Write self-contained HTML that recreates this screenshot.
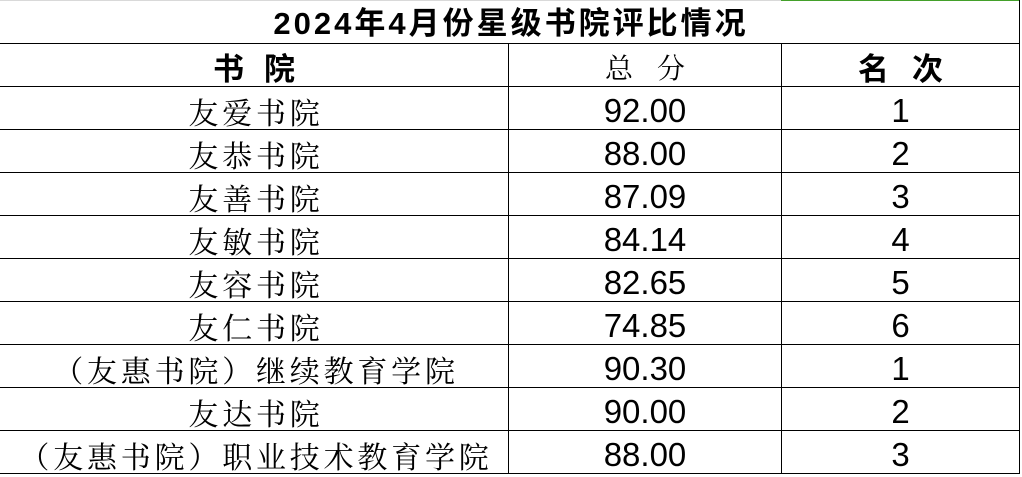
<!DOCTYPE html>
<html>
<head>
<meta charset="utf-8">
<style>
html,body{margin:0;padding:0;background:#fff;}
body{width:1022px;height:477px;position:relative;overflow:hidden;}
*{box-sizing:border-box;}
.h{position:absolute;left:0;width:1020px;height:1px;background:#000;}
.v{position:absolute;width:1px;background:#000;}
.c{position:absolute;text-align:center;white-space:nowrap;color:#000;}
.name{font-family:"Noto Serif CJK SC","Liberation Serif",serif;font-size:30px;letter-spacing:3.8px;padding-left:4px;}
.num{font-family:"Liberation Sans",sans-serif;font-size:33px;}
.rk{font-family:"Liberation Sans",sans-serif;font-size:33px;}
</style>
</head>
<body>
<div style="position:absolute;left:0;top:0;width:781px;height:1px;background:#d9d9d9"></div>
<div style="position:absolute;left:781px;top:0;width:239px;height:1px;background:#43a02a"></div>

<div class="c" style="left:0;top:3px;width:1019px;height:42px;line-height:42px;font-family:'Liberation Sans','Noto Sans CJK SC',sans-serif;font-weight:bold;font-size:31px;letter-spacing:3px;padding-left:3px;">2024年4月份星级书院评比情况</div>

<div class="h" style="top:43px"></div>
<div class="h" style="top:86px"></div>
<div class="h" style="top:129px"></div>
<div class="h" style="top:172px"></div>
<div class="h" style="top:215px"></div>
<div class="h" style="top:258px"></div>
<div class="h" style="top:301px"></div>
<div class="h" style="top:344px"></div>
<div class="h" style="top:387px"></div>
<div class="h" style="top:430px"></div>
<div class="h" style="top:473px"></div>

<div class="v" style="left:508px;top:43px;height:431px"></div>
<div class="v" style="left:781px;top:43px;height:431px"></div>
<div class="v" style="left:1019px;top:0;height:474px"></div>

<!-- header -->
<div class="c" style="left:0;top:46px;width:508px;height:42px;line-height:42px;font-family:'Noto Sans CJK SC',sans-serif;font-weight:bold;font-size:31px;letter-spacing:20px;padding-left:20px;">书院</div>
<div class="c" style="left:509px;top:46px;width:272px;height:42px;line-height:42px;font-family:'Noto Serif CJK SC',serif;font-size:28px;letter-spacing:24px;padding-left:24px;">总分</div>
<div class="c" style="left:782px;top:46px;width:237px;height:42px;line-height:42px;font-family:'Noto Sans CJK SC',sans-serif;font-weight:bold;font-size:31px;letter-spacing:23px;padding-left:23px;">名次</div>

<!-- rows -->
<div class="c name" style="left:0;top:90px;width:508px;height:42px;line-height:42px;">友爱书院</div>
<div class="c num" style="left:509px;top:90px;width:272px;height:42px;line-height:42px;">92.00</div>
<div class="c rk" style="left:782px;top:90px;width:237px;height:42px;line-height:42px;">1</div>

<div class="c name" style="left:0;top:133px;width:508px;height:42px;line-height:42px;">友恭书院</div>
<div class="c num" style="left:509px;top:133px;width:272px;height:42px;line-height:42px;">88.00</div>
<div class="c rk" style="left:782px;top:133px;width:237px;height:42px;line-height:42px;">2</div>

<div class="c name" style="left:0;top:176px;width:508px;height:42px;line-height:42px;">友善书院</div>
<div class="c num" style="left:509px;top:176px;width:272px;height:42px;line-height:42px;">87.09</div>
<div class="c rk" style="left:782px;top:176px;width:237px;height:42px;line-height:42px;">3</div>

<div class="c name" style="left:0;top:219px;width:508px;height:42px;line-height:42px;">友敏书院</div>
<div class="c num" style="left:509px;top:219px;width:272px;height:42px;line-height:42px;">84.14</div>
<div class="c rk" style="left:782px;top:219px;width:237px;height:42px;line-height:42px;">4</div>

<div class="c name" style="left:0;top:262px;width:508px;height:42px;line-height:42px;">友容书院</div>
<div class="c num" style="left:509px;top:262px;width:272px;height:42px;line-height:42px;">82.65</div>
<div class="c rk" style="left:782px;top:262px;width:237px;height:42px;line-height:42px;">5</div>

<div class="c name" style="left:0;top:305px;width:508px;height:42px;line-height:42px;">友仁书院</div>
<div class="c num" style="left:509px;top:305px;width:272px;height:42px;line-height:42px;">74.85</div>
<div class="c rk" style="left:782px;top:305px;width:237px;height:42px;line-height:42px;">6</div>

<div class="c name" style="left:0;top:348px;width:508px;height:42px;line-height:42px;">（友惠书院）继续教育学院</div>
<div class="c num" style="left:509px;top:348px;width:272px;height:42px;line-height:42px;">90.30</div>
<div class="c rk" style="left:782px;top:348px;width:237px;height:42px;line-height:42px;">1</div>

<div class="c name" style="left:0;top:391px;width:508px;height:42px;line-height:42px;">友达书院</div>
<div class="c num" style="left:509px;top:391px;width:272px;height:42px;line-height:42px;">90.00</div>
<div class="c rk" style="left:782px;top:391px;width:237px;height:42px;line-height:42px;">2</div>

<div class="c name" style="left:0;top:434px;width:508px;height:38px;line-height:42px;overflow:visible;">（友惠书院）职业技术教育学院</div>
<div class="c num" style="left:509px;top:434px;width:272px;height:38px;line-height:42px;">88.00</div>
<div class="c rk" style="left:782px;top:434px;width:237px;height:38px;line-height:42px;">3</div>
</body>
</html>
